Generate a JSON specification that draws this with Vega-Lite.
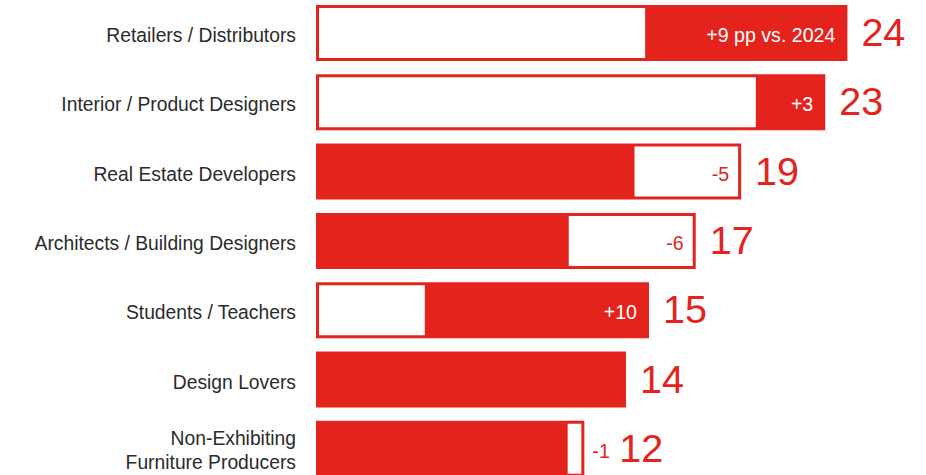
{
  "$schema": "https://vega.github.io/schema/vega-lite/v6.json",
  "width": 610,
  "height": 475,
  "autosize": {"type": "none"},
  "padding": {"left": 316, "top": 0, "right": 0, "bottom": 0},
  "background": "#ffffff",
  "config": {"view": {"stroke": null}, "font": "Liberation Sans"},
  "data": {
    "values": [
      {"category": "Retailers / Distributors", "value": 24, "total": 24, "whiteStart": 0, "whiteEnd": 15, "change": "+9 pp vs. 2024", "direction": "up", "labelPos": "inside"},
      {"category": "Interior / Product Designers", "value": 23, "total": 23, "whiteStart": 0, "whiteEnd": 20, "change": "+3", "direction": "up", "labelPos": "inside"},
      {"category": "Real Estate Developers", "value": 19, "total": 19.2, "whiteStart": 14.25, "whiteEnd": 19.2, "change": "-5", "direction": "down", "labelPos": "inside"},
      {"category": "Architects / Building Designers", "value": 17, "total": 17.15, "whiteStart": 11.28, "whiteEnd": 17.15, "change": "-6", "direction": "down", "labelPos": "inside"},
      {"category": "Students / Teachers", "value": 15, "total": 15.04, "whiteStart": 0, "whiteEnd": 5.05, "change": "+10", "direction": "up", "labelPos": "inside"},
      {"category": "Design Lovers", "value": 14, "total": 14, "whiteStart": null, "whiteEnd": null, "change": "", "direction": "none", "labelPos": "none"},
      {"category": "Non-Exhibiting\nFurniture Producers", "value": 12, "total": 12.12, "whiteStart": 11.23, "whiteEnd": 12.12, "change": "-1", "direction": "down", "labelPos": "outside"}
    ]
  },
  "encoding": {
    "y": {
      "field": "category",
      "type": "nominal",
      "sort": null,
      "axis": null,
      "scale": {"range": [-1.65, 483.5], "paddingInner": 0.19, "paddingOuter": 0.095}
    }
  },
  "layer": [
    {
      "mark": {"type": "bar", "size": 56, "color": "#e4231c"},
      "encoding": {
        "x": {"field": "total", "type": "quantitative", "axis": null, "scale": {"domain": [0, 27.55], "nice": false, "zero": true}}
      }
    },
    {
      "transform": [{"filter": "datum.whiteEnd != null"}],
      "mark": {"type": "bar", "size": 50, "color": "#ffffff", "xOffset": 3, "x2Offset": -3},
      "encoding": {
        "x": {"field": "whiteStart", "type": "quantitative"},
        "x2": {"field": "whiteEnd"}
      }
    },
    {
      "transform": [{"filter": "datum.labelPos == 'inside'"}],
      "mark": {"type": "text", "align": "right", "baseline": "middle", "dx": -12, "dy": 3, "fontSize": 19.6},
      "encoding": {
        "x": {"field": "total", "type": "quantitative"},
        "text": {"field": "change"},
        "color": {"field": "direction", "type": "nominal", "scale": {"domain": ["up", "down"], "range": ["#ffffff", "#e4231c"]}, "legend": null}
      }
    },
    {
      "transform": [{"filter": "datum.labelPos == 'outside'"}],
      "mark": {"type": "text", "align": "left", "baseline": "middle", "dx": 8, "dy": 3, "fontSize": 19.6, "color": "#e4231c"},
      "encoding": {
        "x": {"field": "total", "type": "quantitative"},
        "text": {"field": "change"}
      }
    },
    {
      "transform": [{"filter": "datum.labelPos != 'outside'"}],
      "mark": {"type": "text", "align": "left", "baseline": "middle", "dx": 14, "dy": 1, "fontSize": 39.5, "color": "#e4231c"},
      "encoding": {
        "x": {"field": "total", "type": "quantitative"},
        "text": {"field": "value"}
      }
    },
    {
      "transform": [{"filter": "datum.labelPos == 'outside'"}],
      "mark": {"type": "text", "align": "left", "baseline": "middle", "dx": 35, "dy": 1, "fontSize": 39.5, "color": "#e4231c"},
      "encoding": {
        "x": {"field": "total", "type": "quantitative"},
        "text": {"field": "value"}
      }
    },
    {
      "transform": [{"filter": "indexof(datum.category, '\\n') < 0"}],
      "mark": {"type": "text", "align": "right", "baseline": "middle", "dx": -20, "dy": 3, "fontSize": 19.3, "color": "#2b2b2b"},
      "encoding": {
        "x": {"datum": 0, "type": "quantitative"},
        "text": {"field": "category"}
      }
    },
    {
      "transform": [{"filter": "indexof(datum.category, '\\n') >= 0"}],
      "mark": {"type": "text", "align": "right", "baseline": "middle", "dx": -20, "dy": -10, "fontSize": 19.3, "lineHeight": 24, "lineBreak": "\n", "color": "#2b2b2b"},
      "encoding": {
        "x": {"datum": 0, "type": "quantitative"},
        "text": {"field": "category"}
      }
    }
  ]
}
